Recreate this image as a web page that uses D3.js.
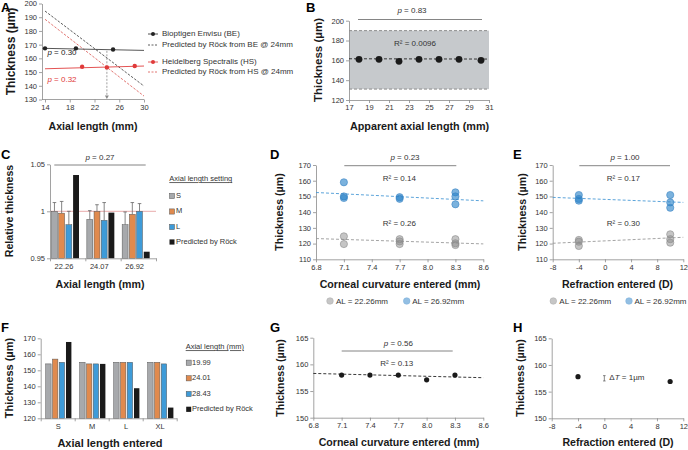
<!DOCTYPE html>
<html><head><meta charset="utf-8">
<script src="https://cdn.jsdelivr.net/npm/d3@7"></script>
<style>body{margin:0;background:#fff}svg{font-family:"Liberation Sans",Arial,sans-serif}</style>
</head><body>
<svg id="c" width="688" height="450"></svg>
<script>
// ===== DATA =====
// Panel A
const aBEx=[14,19,25], aBEy=[167.3,167.3,166.5];
const aBEfitX=[14,30], aBEfitY=[167.3,165.8];
const aHSx=[20,24,28.5], aHSy=[153.9,153.4,154.4];
const aHSfitX=[14,30], aHSfitY=[152.4,154.4];
const aPredBEx=[14,30], aPredBEy=[194.5,139.8];
const aPredHSx=[14,30], aPredHSy=[188.5,132.5];
const aArrowX=24, aArrowTop=165.5;
const aXTicks=[14,18,22,26,30], aYTicks=[130,140,150,160,170,180,190,200];
const aLegend=["Bioptigen Envisu (BE)","Predicted by Röck from BE @ 24mm","Heidelberg Spectralis (HS)","Predicted by Röck from HS @ 24mm"];
// Panel B
const bX=[18,20,22,24,26,28,30.2], bY=[161,161,159,161,161,161,160];
const bBand=[131,190], bFitX=[17,31], bFitY=[161.6,161.3];
const bXTicks=[17,19,21,23,25,27,29,31], bYTicks=[120,140,160,180,200];
// Panel C
const cCats=["22.26","24.07","26.92"];
const cKeys=["S","M","L","Predicted by Röck"];
const cS=[1.000,0.9914,0.9857], cSerr=[0.0093,0.0093,0.0136];
const cM=[0.998,1.000,0.9968], cMerr=[0.0125,0.007,0.0125];
const cL=[0.9857,0.9904,1.000], cLerr=[0.0143,0.0189,0.0082];
const cPred=[1.0386,0.9986,0.957];
const cYTicks=[0.95,1,1.05];
// Panel D
const dBlueX=[7.1,7.1,7.1,7.7,7.7,8.3,8.3,8.3], dBlueY=[159,150,149,149.5,148.5,152.6,150,145];
const dGrayX=[7.1,7.1,7.7,7.7,7.7,8.3,8.3,8.3], dGrayY=[124.6,119.7,122.8,121.4,119.7,122.8,120.2,119.1];
const dFitX=[6.8,8.6], dBlueFit=[152.5,147.2], dGrayFit=[123.2,119.8];
const dXTicks=[6.8,7.1,7.4,7.7,8.0,8.3,8.6], dYTicks=[110,120,130,140,150,160,170];
// Panel E
const eBlueX=[-4,-4,-4,10,10,10], eBlueY=[150.9,148.4,147.3,150.9,146.2,142.8];
const eGrayX=[-4,-4,-4,10,10,10], eGrayY=[122.3,121.2,118.5,125.9,122.8,120.6];
const eFitX=[-8,12], eBlueFit=[149.4,146.2], eGrayFit=[120.2,124.0];
const eXTicks=[-8,-4,0,4,8,12];
const deLegend=["AL = 22.26mm","AL = 26.92mm"];
// Panel F
const fCats=["S","M","L","XL"];
const fKeys=["19.99","24.01","28.43","Predicted by Röck"];
const f1999=[154,155,155,155], f2401=[157,154,155,155], f2843=[155,154,155,154], fPred=[167.7,154,138.8,126.7];
const fYTicks=[120,130,140,150,160,170];
// Panel G
const gX=[7.1,7.4,7.7,8.0,8.3], gY=[158,158,158,157.1,158];
const gFitX=[6.8,8.6], gFitY=[158.3,157.5];
const ghYTicks=[150,155,160,165];
// Panel H
const hX=[-4,10], hY=[157.8,156.9];
const hBar=[157,158];

// ===== HELPERS =====
const svg=d3.select("#c");
const AX="#8a8a8a", TC="#333", TITLE=10.6, TICK=7.5;
const plain=d=>String(d);
function styleAxis(g){g.attr("font-size",null).attr("font-family",null);
  g.selectAll("path,line").attr("stroke",AX).attr("stroke-width",0.8);
  g.selectAll("text").attr("fill",TC).attr("font-size",TICK);}
function axisL(scale,x,ticks,fmt){const g=svg.append("g").attr("transform",`translate(${x},0)`)
  .call(d3.axisLeft(scale).tickValues(ticks).tickFormat(fmt||plain).tickSize(3).tickPadding(2).tickSizeOuter(0));styleAxis(g);return g;}
function axisB(scale,y,ticks,fmt,x0,x1){const g=svg.append("g").attr("transform",`translate(0,${y})`)
  .call(d3.axisBottom(scale).tickValues(ticks).tickFormat(fmt||plain).tickSize(3).tickPadding(2).tickSizeOuter(0));
  styleAxis(g);if(x0!==undefined)g.select(".domain").attr("d",`M${x0},0H${x1}`);return g;}
function text(x,y,s,o={}){return svg.append("text").attr("x",x).attr("y",y).attr("font-size",o.size||8)
  .attr("font-weight",o.bold?"bold":null).attr("fill",o.fill||TC).attr("text-anchor",o.anchor||"start")
  .attr("dominant-baseline","middle").attr("text-decoration",o.underline?"underline":null).text(s);}
function pText(x,y,val,fill){const t=svg.append("text").attr("x",x).attr("y",y).attr("font-size",8).attr("fill",fill||TC)
  .attr("text-anchor","middle").attr("dominant-baseline","middle");
  t.append("tspan").attr("font-style","italic").text("p");t.append("tspan").text(" = "+val);return t;}
function pLine(x0,x1,y){svg.append("line").attr("x1",x0).attr("x2",x1).attr("y1",y).attr("y2",y).attr("stroke","#666").attr("stroke-width",0.8);}
function yTitle(x,y,s,size){svg.append("text").attr("transform",`translate(${x},${y}) rotate(-90)`).attr("text-anchor","middle")
  .attr("dominant-baseline","middle").attr("font-weight","bold").attr("font-size",size||TITLE).attr("fill","#1a1a1a").text(s);}
function xTitle(x,y,s,size){text(x,y,s,{bold:true,size:size||TITLE,anchor:"middle",fill:"#1a1a1a"});}
function letter(x,y,s){text(x,y,s,{bold:true,size:13,fill:"#000"});}
const zip=(a,b)=>a.map((v,i)=>[v,b[i]]);

// ===== PANEL A =====
{
const x=d3.scaleLinear().domain([14,30]).range([45,144]);
const y=d3.scaleLinear().domain([130,200]).range([99.5,3.5]);
letter(1,8.5,"A");
axisL(y,42,aYTicks);axisB(x,99.5,aXTicks,null,42,144);
const ln=d3.line().x(d=>x(d[0])).y(d=>y(d[1]));
svg.append("path").attr("d",ln(zip(aPredBEx,aPredBEy))).attr("fill","none").attr("stroke","#333").attr("stroke-width",0.8).attr("stroke-dasharray","2.5,1.5");
svg.append("path").attr("d",ln(zip(aPredHSx,aPredHSy))).attr("fill","none").attr("stroke","#d9534f").attr("stroke-width",0.8).attr("stroke-dasharray","2.5,1.5");
svg.append("path").attr("d",ln(zip(aBEfitX,aBEfitY))).attr("fill","none").attr("stroke","#444").attr("stroke-width",0.9);
svg.append("path").attr("d",ln(zip(aHSfitX,aHSfitY))).attr("fill","none").attr("stroke","#e04040").attr("stroke-width",0.9);
svg.append("line").attr("x1",x(aArrowX)).attr("x2",x(aArrowX)).attr("y1",y(aArrowTop)).attr("y2",y(130)-3).attr("stroke","#888").attr("stroke-width",0.8).attr("stroke-dasharray","2,1.5");
svg.append("path").attr("d",`M${x(aArrowX)-2},${y(130)-4}L${x(aArrowX)+2},${y(130)-4}L${x(aArrowX)},${y(130)-0.5}Z`).attr("fill","#888");
svg.selectAll(null).data(zip(aBEx,aBEy)).join("circle").attr("cx",d=>x(d[0])).attr("cy",d=>y(d[1])).attr("r",2.2).attr("fill","#222");
svg.selectAll(null).data(zip(aHSx,aHSy)).join("circle").attr("cx",d=>x(d[0])).attr("cy",d=>y(d[1])).attr("r",2.2).attr("fill","#e03a3a");
pText(62,52.5,"0.30","#222");pText(62,80,"0.32","#e03a3a");
yTitle(12,51.5,"Thickness (µm)",12);xTitle(93,127,"Axial length (mm)");
// legend
const ly=[34,45,62,72], lc=["#222","#333","#e03a3a","#d9534f"];
aLegend.forEach((s,i)=>{
  const l=svg.append("line").attr("x1",148).attr("x2",158).attr("y1",ly[i]).attr("y2",ly[i]).attr("stroke",lc[i]).attr("stroke-width",0.8);
  if(i%2===1) l.attr("stroke-dasharray","2,1.5"); else svg.append("circle").attr("cx",153).attr("cy",ly[i]).attr("r",2).attr("fill",lc[i]);
  text(162,ly[i],s,{size:8});
});
}

// ===== PANEL B =====
{
const x=d3.scaleLinear().domain([17,31]).range([349,489]);
const y=d3.scaleLinear().domain([120,200]).range([100,20.7]);
letter(306,8.5,"B");
svg.append("rect").attr("x",x(17)).attr("width",x(31)-x(17)).attr("y",y(bBand[1])).attr("height",y(bBand[0])-y(bBand[1])).attr("fill","#c6c9cc");
[bBand[0],bBand[1]].forEach(v=>svg.append("line").attr("x1",x(17)).attr("x2",x(31)).attr("y1",y(v)).attr("y2",y(v)).attr("stroke","#777").attr("stroke-width",0.8).attr("stroke-dasharray","3,2"));
axisL(y,349,bYTicks);axisB(x,100,bXTicks);
svg.append("path").attr("d",d3.line().x(d=>x(d[0])).y(d=>y(d[1]))(zip(bFitX,bFitY))).attr("stroke","#222").attr("stroke-width",0.9).attr("stroke-dasharray","3,2").attr("fill","none");
svg.selectAll(null).data(zip(bX,bY)).join("circle").attr("cx",d=>x(d[0])).attr("cy",d=>y(d[1])).attr("r",3.4).attr("fill","#1a1a1a");
text(415,44,"R² = 0.0096",{size:8,anchor:"middle"});
pText(412,11,"0.83");pLine(358,482,19.5);
yTitle(319,60,"Thickness (µm)",11.5);xTitle(419.5,127,"Apparent axial length (mm)",10.8);
}

// ===== PANEL C =====
{
const x0=d3.scaleBand().domain(cCats).range([50,156]);
const x1=d3.scaleBand().domain(cKeys).range([1.5,29]).paddingInner(0.18);
const y=d3.scaleLinear().domain([0.95,1.05]).range([258.3,164.3]);
const cols=["#a7a9ac","#e08a4e","#3e9bd8","#1a1a1a"];
letter(1,156,"C");
const vals=[cS,cM,cL,cPred], errs=[cSerr,cMerr,cLerr,null];
svg.append("line").attr("x1",50).attr("x2",156).attr("y1",y(1)).attr("y2",y(1)).attr("stroke","#e7a3a3").attr("stroke-width",0.9);
cCats.forEach((c,ci)=>{
  vals.forEach((arr,ki)=>{
    const bx=x0(c)+x1(cKeys[ki]), bw=x1.bandwidth(), v=arr[ci];
    if(errs[ki]){const e=errs[ki][ci];
      svg.append("line").attr("x1",bx+bw/2).attr("x2",bx+bw/2).attr("y1",y(v)).attr("y2",y(v+e)).attr("stroke","#666").attr("stroke-width",0.8);
      svg.append("line").attr("x1",bx+bw/2-1.8).attr("x2",bx+bw/2+1.8).attr("y1",y(v+e)).attr("y2",y(v+e)).attr("stroke","#666").attr("stroke-width",0.8);}
    svg.append("rect").attr("x",bx).attr("width",bw).attr("y",y(v)).attr("height",y(0.95)-y(v)).attr("fill",cols[ki]).attr("stroke",ki<3?"#555":"none").attr("stroke-width",0.5);
  });
});
axisL(y,50,cYTicks,d=>d===1?"1":d3.format(".2f")(d));
const xi=d3.scaleLinear().domain([0,3]).range([50,156]);
axisB(xi,258.3,[0,1,2,3],()=>"");
cCats.forEach(c=>text(x0(c)+14,267,c,{size:TICK,anchor:"middle"}));
pText(100,158,"0.27");pLine(54.3,145.7,165);
yTitle(10,211,"Relative thickness");xTitle(100,285,"Axial length (mm)");
text(169.3,179.3,"Axial length setting",{size:7.5,underline:true});
const ly=[196,211.5,227,242];
cKeys.forEach((k,i)=>{svg.append("rect").attr("x",169.5).attr("y",ly[i]-2.6).attr("width",5).attr("height",5.2).attr("fill",cols[i]).attr("stroke",i<3?"#555":"none").attr("stroke-width",0.5);
  text(176,ly[i],k,{size:7.5});});
}

// ===== PANELS D & E =====
function scatterPanel(o){
  const x=d3.scaleLinear().domain(o.xd).range(o.xr);
  const y=d3.scaleLinear().domain([110,170]).range([259.3,165]);
  letter(o.lx,156,o.letter);
  axisL(y,o.xr[0],dYTicks);axisB(x,259.3,o.xt,o.fmt);
  const ln=d3.line().x(d=>x(d[0])).y(d=>y(d[1]));
  svg.append("path").attr("d",ln(zip(o.fitX,o.blueFit))).attr("stroke","#4a9ad6").attr("stroke-width",0.9).attr("stroke-dasharray","3,2").attr("fill","none");
  svg.append("path").attr("d",ln(zip(o.fitX,o.grayFit))).attr("stroke","#9a9a9a").attr("stroke-width",0.9).attr("stroke-dasharray","3,2").attr("fill","none");
  svg.selectAll(null).data(zip(o.gx,o.gy)).join("circle").attr("cx",d=>x(d[0])).attr("cy",d=>y(d[1])).attr("r",3.6)
    .attr("fill","#8c8c8c").attr("fill-opacity",0.5).attr("stroke","#8c8c8c").attr("stroke-width",0.6);
  svg.selectAll(null).data(zip(o.bx,o.by)).join("circle").attr("cx",d=>x(d[0])).attr("cy",d=>y(d[1])).attr("r",3.6)
    .attr("fill","#2a82c8").attr("fill-opacity",0.62).attr("stroke","#3a85c4").attr("stroke-width",0.6);
  text(o.rx,179.3,o.r1,{size:8,anchor:"middle"});text(o.rx,224.3,o.r2,{size:8,anchor:"middle"});
  pText(o.px,158.3,o.p);pLine(o.pl[0],o.pl[1],165.7);
  yTitle(o.yt,212,"Thickness (µm)");xTitle(o.xtc,285,o.xtitle);
  // legend
  svg.append("circle").attr("cx",o.leg[0]).attr("cy",301).attr("r",3.3).attr("fill","#c6c6c6").attr("stroke","#aaa").attr("stroke-width",0.5);
  text(o.leg[0]+6,301.5,deLegend[0],{size:8});
  svg.append("circle").attr("cx",o.leg[1]).attr("cy",301).attr("r",3.3).attr("fill","#93bfe3").attr("stroke","#7aaedb").attr("stroke-width",0.5);
  text(o.leg[1]+5.5,301.5,deLegend[1],{size:8});
}
scatterPanel({letter:"D",lx:270,xd:[6.8,8.6],xr:[316,483.3],xt:dXTicks,fmt:d3.format(".1f"),fitX:dFitX,blueFit:dBlueFit,grayFit:dGrayFit,
  gx:dGrayX,gy:dGrayY,bx:dBlueX,by:dBlueY,rx:399.3,r1:"R² = 0.14",r2:"R² = 0.26",px:405,p:"0.23",pl:[344.3,456.3],yt:280,xtc:400,
  xtitle:"Corneal curvature entered (mm)",leg:[330,406.7]});
scatterPanel({letter:"E",lx:513,xd:[-8,12],xr:[552.7,683.3],xt:eXTicks,fmt:plain,fitX:eFitX,blueFit:eBlueFit,grayFit:eGrayFit,
  gx:eGrayX,gy:eGrayY,bx:eBlueX,by:eBlueY,rx:623.3,r1:"R² = 0.17",r2:"R² = 0.30",px:625,p:"1.00",pl:[579.3,670],yt:523.3,xtc:617.5,
  xtitle:"Refraction entered (D)",leg:[553.3,629]});

// ===== PANEL F =====
{
const x0=d3.scaleBand().domain(fCats).range([40.7,176.7]);
const x1=d3.scaleBand().domain(fKeys).range([5,30.7]).paddingInner(0.2);
const y=d3.scaleLinear().domain([120,170]).range([418.3,338.3]);
const cols=["#a7a9ac","#e08a4e","#3e9bd8","#1a1a1a"];
letter(1,329,"F");
const vals=[f1999,f2401,f2843,fPred];
fCats.forEach((c,ci)=>vals.forEach((arr,ki)=>{
  const bx=x0(c)+x1(fKeys[ki]);
  svg.append("rect").attr("x",bx).attr("width",x1.bandwidth()).attr("y",y(arr[ci])).attr("height",y(120)-y(arr[ci])).attr("fill",cols[ki]).attr("stroke",ki<3?"#555":"none").attr("stroke-width",0.5);
}));
axisL(y,40.7,fYTicks);
const xi=d3.scaleLinear().domain([0,4]).range([40.7,176.7]);
axisB(xi,418.3,[0,1,2,3,4],()=>"");
fCats.forEach(c=>text(x0(c)+x0.bandwidth()/2+0.5,427.5,c,{size:TICK,anchor:"middle"}));
yTitle(10,378,"Thickness (µm)",11);xTitle(110,444,"Axial length entered",11);
text(185.7,347.3,"Axial length (mm)",{size:7.5,underline:true});
const ly=[362.7,378.3,394,409.3];
fKeys.forEach((k,i)=>{svg.append("rect").attr("x",186.2).attr("y",ly[i]-2.6).attr("width",5).attr("height",5.2).attr("fill",cols[i]).attr("stroke",i<3?"#555":"none").attr("stroke-width",0.5);
  text(192,ly[i],k,{size:7.5});});
}

// ===== PANEL G =====
{
const x=d3.scaleLinear().domain([6.8,8.6]).range([313.3,483.3]);
const y=d3.scaleLinear().domain([150,165]).range([417.7,337.7]);
letter(270,329,"G");
axisL(y,313.3,ghYTicks);axisB(x,417.7,dXTicks,d3.format(".1f"));
svg.append("path").attr("d",d3.line().x(d=>x(d[0])).y(d=>y(d[1]))(zip(gFitX,gFitY))).attr("stroke","#222").attr("stroke-width",0.9).attr("stroke-dasharray","3,2").attr("fill","none");
svg.selectAll(null).data(zip(gX,gY)).join("circle").attr("cx",d=>x(d[0])).attr("cy",d=>y(d[1])).attr("r",2.6).attr("fill","#1a1a1a");
text(396.7,364,"R² = 0.13",{size:8,anchor:"middle"});
pText(398.3,344,"0.56");pLine(341.7,452.7,351);
yTitle(281.7,378,"Thickness (µm)");xTitle(399,443.3,"Corneal curvature entered (mm)");
}

// ===== PANEL H =====
{
const x=d3.scaleLinear().domain([-8,12]).range([551.7,683.3]);
const y=d3.scaleLinear().domain([150,165]).range([418.3,338.3]);
letter(513,329,"H");
axisL(y,551.7,ghYTicks);axisB(x,418.3,eXTicks);
svg.selectAll(null).data(zip(hX,hY)).join("circle").attr("cx",d=>x(d[0])).attr("cy",d=>y(d[1])).attr("r",2.6).attr("fill","#1a1a1a");
const bx=x(0);
svg.append("line").attr("x1",bx).attr("x2",bx).attr("y1",y(hBar[0])).attr("y2",y(hBar[1])).attr("stroke","#555").attr("stroke-width",0.7);
[hBar[0],hBar[1]].forEach(v=>svg.append("line").attr("x1",bx-1.3).attr("x2",bx+1.3).attr("y1",y(v)).attr("y2",y(v)).attr("stroke","#555").attr("stroke-width",0.7));
const t=svg.append("text").attr("x",bx+5).attr("y",y((hBar[0]+hBar[1])/2)).attr("font-size",8).attr("fill",TC).attr("dominant-baseline","middle");
t.append("tspan").text("Δ");t.append("tspan").attr("font-style","italic").text("T");t.append("tspan").text(" = 1µm");
yTitle(521.7,378,"Thickness (µm)");xTitle(618,443.3,"Refraction entered (D)");
}
</script>
</body></html>
